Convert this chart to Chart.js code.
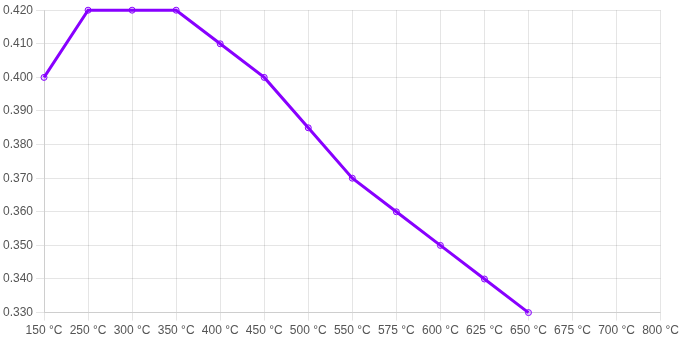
<!DOCTYPE html>
<html>
<head>
<meta charset="utf-8">
<script src="https://cdn.jsdelivr.net/npm/chart.js@4/dist/chart.umd.min.js"></script>
<style>
  html, body { margin: 0; padding: 0; background: #fff; }
  #wrap { width: 682px; height: 341px; position: relative; }
</style>
</head>
<body>
<div id="wrap"><canvas id="chart"></canvas></div>
<script>
var temperatures = ["150 °C", "250 °C", "300 °C", "350 °C", "400 °C", "450 °C", "500 °C",
    "550 °C", "575 °C", "600 °C", "625 °C", "650 °C", "675 °C", "700 °C", "800 °C"];
var values = [0.400, 0.420, 0.420, 0.420, 0.410, 0.400, 0.385,
    0.370, 0.360, 0.350, 0.340, 0.330, null, null, null];
var yMin = 0.33;
var yMax = 0.42;
var yStep = 0.01;

Chart.defaults.font.family = "'Liberation Sans', Arial, sans-serif";
Chart.defaults.font.size = 12;
Chart.defaults.color = "#555";

new Chart("chart", {
    type: 'line',
    data: {
        labels: temperatures,
        datasets: [{
            label: "value",
            data: values,
            borderColor: "#8800ff",
            backgroundColor: "rgba(136,0,255,0.2)",
            pointBorderColor: "#8800ff",
            pointBackgroundColor: "rgba(136,0,255,0.15)",
            borderWidth: 3,
            pointRadius: 3,
            pointBorderWidth: 1,
            tension: 0,
            fill: false,
            clip: false
        }]
    },
    options: {
        responsive: true,
        maintainAspectRatio: false,
        animation: false,
        plugins: {
            legend: { display: false },
            tooltip: { enabled: false }
        },
        scales: {
            x: {
                grid: { color: "rgba(0,0,0,0.1)" },
                ticks: { maxRotation: 0, autoSkip: false }
            },
            y: {
                min: yMin,
                max: yMax,
                grid: { color: "rgba(0,0,0,0.1)" },
                ticks: {
                    stepSize: yStep,
                    callback: function (v) { return v.toFixed(3); }
                }
            }
        }
    }
});
</script>
</body>
</html>
